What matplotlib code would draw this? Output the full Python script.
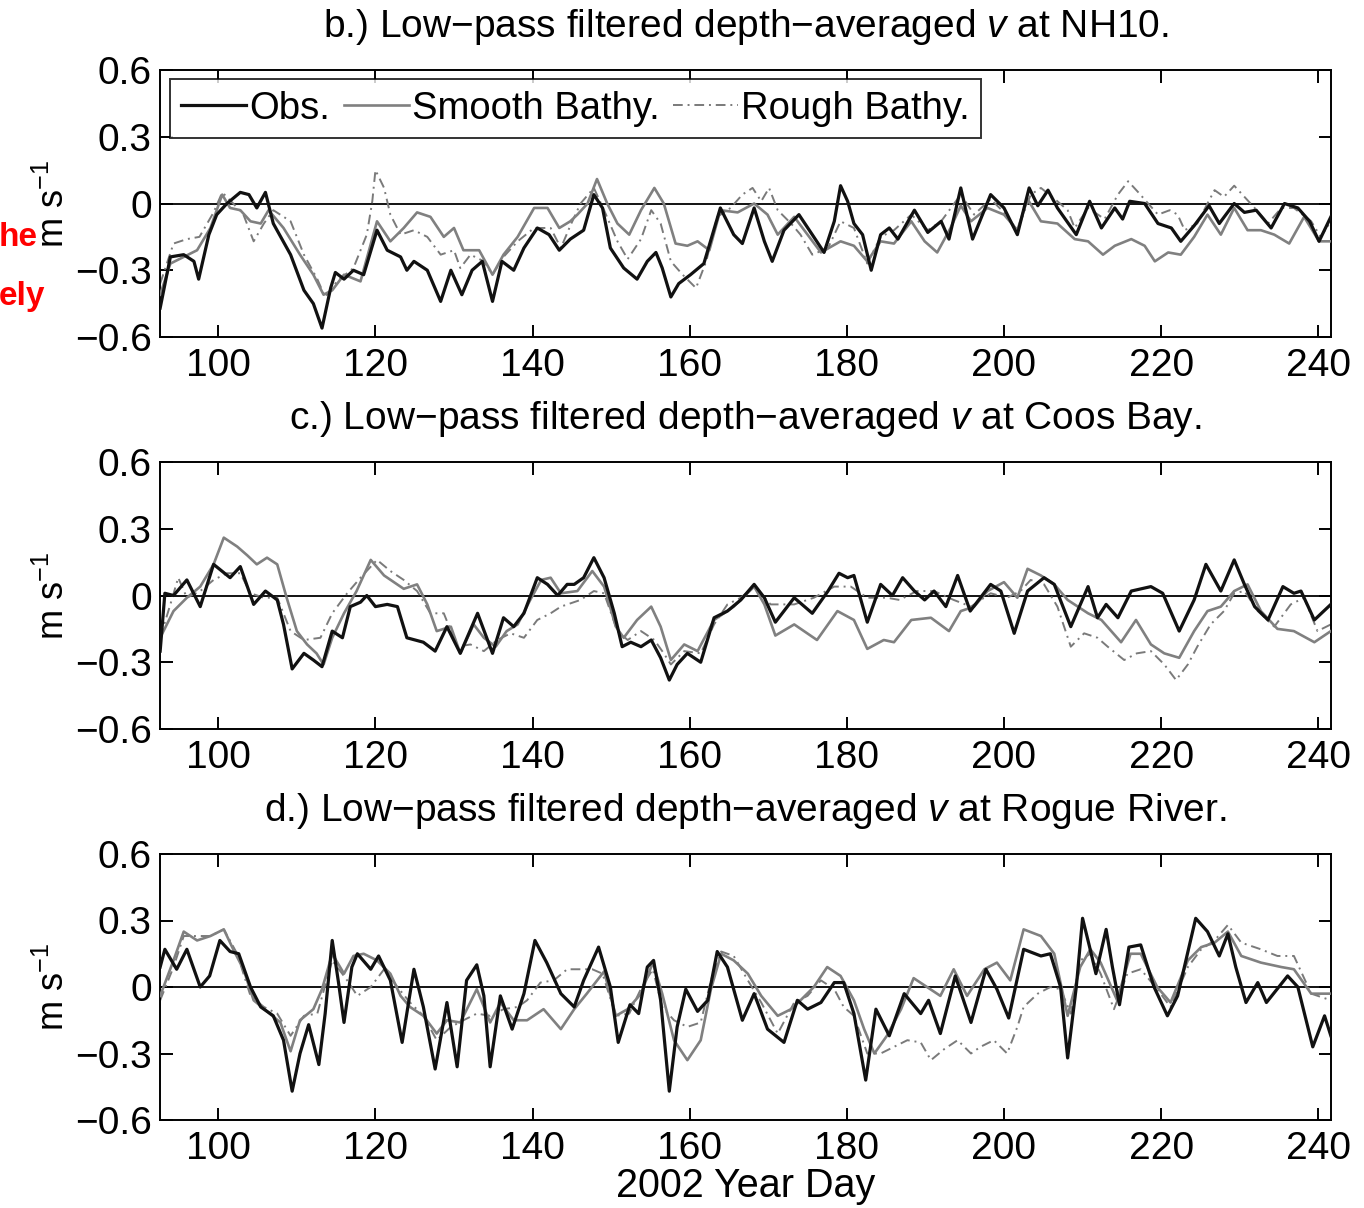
import matplotlib
matplotlib.use("Agg")
import matplotlib.pyplot as plt

plt.rcParams['font.family'] = ['Liberation Sans', 'DejaVu Sans']
plt.rcParams['mathtext.fontset'] = 'custom'
plt.rcParams['mathtext.rm'] = 'Liberation Sans'
plt.rcParams['mathtext.it'] = 'Liberation Sans:italic'
plt.rcParams['axes.unicode_minus'] = True

# ---------------- data ----------------
series_labels = ["Obs.", "Smooth Bathy.", "Rough Bathy."]
panel_titles = [
    "b.) Low\u2212pass filtered depth\u2212averaged $\\mathit{v}$ at NH10.",
    "c.) Low\u2212pass filtered depth\u2212averaged $\\mathit{v}$ at Coos Bay.",
    "d.) Low\u2212pass filtered depth\u2212averaged $\\mathit{v}$ at Rogue River.",
]
xticks = [100, 120, 140, 160, 180, 200, 220, 240]
yticks = [-0.6, -0.3, 0, 0.3, 0.6]
ytick_labels = ["\u22120.6", "\u22120.3", "0", "0.3", "0.6"]
xlabel = "2002 Year Day"
ylabel = "m s$^{-1}$"

# Panel b (NH10)
b_obs_day = [92.6, 93.9, 95.6, 96.9, 97.5, 98.8, 99.8, 101.1, 102.8, 103.9, 104.9, 106.0, 107.0, 109.2, 110.9, 112.1, 113.2, 114.3, 114.9, 116.0, 117.2, 118.5, 120.2, 121.5, 123.2, 124.0, 124.9, 126.6, 128.3, 129.6, 131.0, 132.3, 133.6, 134.9, 136.1, 137.6, 138.9, 140.6, 142.1, 143.4, 144.8, 146.5, 147.8, 148.9, 149.9, 151.6, 153.3, 154.6, 155.7, 156.5, 157.6, 158.6, 160.1, 161.8, 163.9, 165.6, 166.7, 168.2, 169.5, 170.5, 172.0, 173.9, 175.6, 177.1, 178.4, 179.2, 180.1, 180.9, 182.0, 183.1, 184.3, 185.4, 186.5, 188.6, 190.3, 192.0, 193.0, 194.5, 196.0, 198.3, 200.0, 201.7, 203.2, 204.3, 205.6, 206.8, 209.2, 210.9, 212.4, 214.1, 215.1, 216.0, 217.9, 219.6, 221.3, 222.5, 224.2, 226.1, 227.4, 229.3, 230.6, 232.1, 234.0, 235.7, 237.4, 238.9, 240.1, 241.6]
b_obs_v = [-0.47, -0.24, -0.23, -0.26, -0.34, -0.14, -0.05, 0.0, 0.05, 0.04, -0.02, 0.05, -0.09, -0.23, -0.39, -0.45, -0.56, -0.38, -0.31, -0.34, -0.30, -0.32, -0.12, -0.21, -0.24, -0.30, -0.26, -0.30, -0.44, -0.30, -0.41, -0.30, -0.26, -0.44, -0.26, -0.30, -0.20, -0.11, -0.14, -0.21, -0.16, -0.12, 0.04, -0.02, -0.20, -0.29, -0.34, -0.26, -0.22, -0.29, -0.42, -0.36, -0.32, -0.27, -0.02, -0.14, -0.18, -0.02, -0.17, -0.26, -0.12, -0.05, -0.14, -0.22, -0.08, 0.08, 0.01, -0.09, -0.14, -0.30, -0.14, -0.11, -0.16, -0.03, -0.13, -0.08, -0.16, 0.07, -0.16, 0.04, -0.02, -0.14, 0.07, -0.01, 0.06, -0.02, -0.14, 0.01, -0.11, -0.02, -0.07, 0.01, 0.0, -0.09, -0.11, -0.17, -0.10, -0.01, -0.09, 0.0, -0.04, -0.03, -0.11, 0.0, -0.02, -0.08, -0.17, -0.06]

b_smooth_day = [92.6, 93.9, 95.6, 97.3, 99.0, 100.5, 101.5, 102.8, 104.1, 105.4, 106.4, 108.3, 110.4, 112.1, 113.4, 114.5, 116.0, 118.1, 120.2, 121.9, 123.6, 125.3, 127.0, 128.7, 130.0, 131.2, 133.2, 134.9, 136.3, 138.1, 140.2, 141.9, 143.4, 144.8, 145.7, 147.0, 148.2, 149.5, 150.8, 152.3, 153.8, 155.5, 156.7, 158.2, 159.7, 161.0, 162.5, 163.9, 166.1, 168.2, 169.9, 171.2, 173.3, 175.0, 176.7, 179.2, 180.9, 182.6, 184.3, 186.0, 188.2, 189.9, 191.5, 193.2, 194.5, 195.8, 197.9, 200.0, 201.7, 203.0, 204.7, 206.8, 209.0, 210.7, 212.6, 214.1, 216.2, 217.9, 219.2, 220.9, 222.5, 224.2, 225.9, 227.6, 229.3, 231.0, 232.7, 234.4, 236.3, 238.2, 240.1, 241.6]
b_smooth_v = [-0.41, -0.27, -0.24, -0.21, -0.11, 0.04, -0.02, -0.03, -0.08, -0.09, -0.03, -0.11, -0.23, -0.32, -0.41, -0.39, -0.32, -0.35, -0.08, -0.17, -0.11, -0.04, -0.06, -0.15, -0.11, -0.21, -0.21, -0.32, -0.23, -0.15, -0.02, -0.02, -0.11, -0.08, -0.05, 0.0, 0.11, 0.0, -0.09, -0.14, -0.03, 0.07, 0.0, -0.18, -0.19, -0.17, -0.21, -0.03, -0.04, 0.0, -0.05, -0.14, -0.06, -0.14, -0.22, -0.17, -0.19, -0.26, -0.17, -0.18, -0.08, -0.17, -0.22, -0.11, -0.01, -0.08, -0.02, -0.05, -0.12, 0.02, -0.08, -0.09, -0.16, -0.17, -0.23, -0.19, -0.16, -0.19, -0.26, -0.22, -0.23, -0.15, -0.05, -0.14, -0.02, -0.12, -0.12, -0.14, -0.18, -0.06, -0.17, -0.17]

b_rough_day = [92.6, 94.3, 96.0, 97.6, 99.4, 100.5, 101.9, 103.2, 104.5, 105.8, 107.0, 109.2, 110.9, 112.6, 113.6, 115.1, 117.2, 118.9, 119.6, 120.0, 121.1, 121.9, 123.2, 124.9, 126.6, 128.3, 130.0, 130.8, 132.1, 133.8, 134.9, 136.3, 138.1, 140.2, 142.3, 143.6, 144.8, 146.1, 147.8, 149.1, 150.8, 152.1, 153.8, 155.1, 156.3, 157.6, 159.1, 160.8, 162.1, 163.5, 165.2, 166.7, 168.0, 169.1, 170.1, 171.2, 172.9, 174.1, 175.6, 177.6, 179.2, 180.9, 182.6, 184.3, 186.0, 188.2, 190.3, 192.0, 194.5, 196.2, 198.3, 200.0, 201.7, 203.4, 204.7, 206.8, 208.1, 209.0, 210.7, 212.8, 214.5, 215.8, 217.1, 218.1, 219.6, 221.1, 222.1, 223.0, 224.6, 225.9, 226.8, 228.0, 229.3, 230.6, 231.9, 233.6, 235.3, 236.9, 239.1, 240.3, 241.6]
b_rough_v = [-0.36, -0.18, -0.16, -0.15, -0.04, 0.05, 0.0, -0.05, -0.17, -0.09, -0.03, -0.08, -0.23, -0.34, -0.42, -0.35, -0.29, -0.14, 0.01, 0.15, 0.07, -0.05, -0.14, -0.12, -0.15, -0.23, -0.21, -0.29, -0.23, -0.26, -0.32, -0.24, -0.17, -0.11, -0.11, -0.20, -0.10, 0.0, 0.07, -0.03, -0.17, -0.25, -0.16, -0.03, -0.09, -0.26, -0.32, -0.38, -0.26, -0.06, -0.02, 0.04, 0.07, 0.01, 0.07, -0.03, -0.09, -0.14, -0.23, -0.20, -0.08, -0.11, -0.27, -0.15, -0.12, -0.05, -0.12, -0.08, 0.04, -0.05, 0.02, -0.04, -0.12, 0.04, 0.07, 0.01, -0.03, -0.11, -0.02, -0.07, 0.04, 0.10, 0.05, 0.01, -0.05, -0.03, -0.05, -0.12, -0.09, 0.0, 0.06, 0.03, 0.08, 0.03, -0.02, -0.09, -0.02, -0.02, -0.08, -0.15, -0.08]

# Panel c (Coos Bay)
c_obs_day = [92.6, 93.2, 94.3, 96.0, 97.7, 99.4, 101.5, 102.8, 104.5, 106.0, 107.5, 108.3, 109.4, 110.9, 112.1, 113.2, 114.5, 115.8, 116.8, 118.1, 118.9, 120.0, 121.5, 122.8, 124.0, 126.1, 127.6, 129.1, 130.8, 133.0, 134.9, 136.3, 137.6, 138.9, 140.6, 141.9, 143.2, 144.4, 145.3, 146.5, 147.8, 149.1, 150.4, 151.4, 152.5, 153.8, 155.1, 156.3, 157.4, 158.4, 159.7, 161.4, 163.1, 164.8, 166.5, 168.2, 169.5, 170.9, 173.3, 175.6, 177.6, 179.0, 180.1, 180.9, 182.6, 184.3, 185.8, 187.1, 188.6, 189.9, 191.1, 192.6, 194.1, 195.7, 198.3, 199.6, 201.3, 203.0, 205.1, 206.4, 208.5, 210.7, 211.9, 213.0, 214.5, 216.2, 218.7, 220.2, 222.3, 224.2, 225.7, 227.6, 229.3, 230.6, 231.9, 233.6, 235.5, 236.9, 237.8, 239.5, 241.6]
c_obs_v = [-0.25, 0.01, 0.0, 0.07, -0.05, 0.14, 0.08, 0.13, -0.04, 0.02, -0.02, -0.13, -0.33, -0.26, -0.29, -0.32, -0.16, -0.19, -0.05, -0.03, 0.0, -0.05, -0.04, -0.05, -0.19, -0.21, -0.25, -0.14, -0.26, -0.08, -0.26, -0.10, -0.14, -0.08, 0.08, 0.05, 0.0, 0.05, 0.05, 0.08, 0.17, 0.08, -0.08, -0.23, -0.21, -0.23, -0.20, -0.28, -0.38, -0.31, -0.26, -0.30, -0.10, -0.07, -0.02, 0.05, -0.01, -0.12, -0.01, -0.08, 0.02, 0.10, 0.08, 0.09, -0.12, 0.05, 0.0, 0.08, 0.02, -0.02, 0.02, -0.05, 0.09, -0.07, 0.05, 0.02, -0.17, 0.02, 0.08, 0.05, -0.14, 0.04, -0.10, -0.04, -0.10, 0.02, 0.04, 0.01, -0.16, -0.02, 0.14, 0.02, 0.16, 0.05, -0.05, -0.11, 0.04, 0.01, 0.02, -0.11, -0.04]

c_smooth_day = [92.6, 94.3, 96.0, 97.7, 99.4, 100.7, 102.4, 103.7, 104.9, 106.2, 107.5, 108.7, 110.0, 111.3, 112.5, 113.4, 114.5, 116.0, 117.6, 119.4, 121.1, 123.6, 125.3, 126.6, 127.8, 129.6, 130.8, 132.5, 133.8, 135.3, 136.7, 138.1, 139.7, 141.1, 142.3, 143.6, 145.7, 147.6, 149.1, 150.6, 151.6, 153.3, 155.1, 156.3, 157.6, 159.3, 161.0, 163.1, 165.6, 168.2, 169.5, 170.9, 173.3, 176.2, 178.8, 180.9, 182.6, 184.7, 186.0, 188.2, 190.7, 193.0, 194.5, 196.2, 197.9, 200.0, 201.7, 203.0, 204.7, 206.4, 208.1, 210.7, 212.4, 214.9, 216.8, 218.7, 220.4, 222.3, 224.2, 225.9, 227.6, 229.3, 231.0, 232.7, 234.8, 236.9, 239.5, 241.6]
c_smooth_v = [-0.19, -0.07, -0.01, 0.04, 0.14, 0.26, 0.22, 0.18, 0.14, 0.17, 0.14, -0.01, -0.16, -0.22, -0.26, -0.31, -0.19, -0.08, 0.02, 0.16, 0.09, 0.03, 0.05, -0.04, -0.16, -0.14, -0.26, -0.13, -0.19, -0.23, -0.16, -0.13, -0.02, 0.07, 0.08, 0.01, 0.02, 0.11, 0.04, -0.14, -0.19, -0.11, -0.05, -0.14, -0.29, -0.22, -0.25, -0.11, -0.05, 0.04, -0.04, -0.18, -0.13, -0.20, -0.07, -0.11, -0.24, -0.20, -0.21, -0.11, -0.10, -0.16, -0.07, -0.05, 0.02, 0.06, -0.01, 0.12, 0.09, 0.05, -0.02, -0.08, -0.11, -0.21, -0.11, -0.22, -0.26, -0.28, -0.16, -0.07, -0.05, 0.02, 0.05, -0.07, -0.15, -0.16, -0.21, -0.16]

c_rough_day = [92.6, 93.9, 94.9, 96.0, 97.7, 99.4, 101.1, 102.8, 104.1, 105.8, 107.5, 109.2, 110.9, 113.0, 114.5, 116.4, 118.1, 120.2, 121.9, 123.6, 125.3, 127.0, 128.7, 130.4, 132.1, 133.8, 135.5, 137.2, 138.9, 140.6, 142.3, 143.6, 146.1, 147.8, 149.1, 150.8, 152.1, 153.8, 155.5, 156.7, 157.6, 159.3, 161.4, 163.1, 164.8, 166.5, 168.2, 170.3, 173.3, 175.8, 178.4, 180.5, 182.6, 185.1, 186.7, 188.9, 191.1, 193.6, 195.8, 198.3, 200.4, 202.1, 203.4, 205.1, 206.8, 208.5, 210.2, 211.9, 213.2, 215.3, 216.9, 218.7, 220.4, 221.9, 223.4, 224.6, 226.3, 228.0, 229.3, 230.6, 232.3, 234.4, 236.5, 238.2, 239.9, 241.6]
c_rough_v = [-0.19, -0.04, 0.08, -0.01, 0.02, 0.07, 0.10, 0.10, 0.01, -0.01, -0.01, -0.16, -0.20, -0.19, -0.08, 0.01, 0.08, 0.16, 0.11, 0.07, 0.02, -0.08, -0.08, -0.23, -0.22, -0.25, -0.20, -0.17, -0.19, -0.11, -0.08, -0.05, -0.02, 0.02, 0.01, -0.16, -0.20, -0.16, -0.20, -0.26, -0.31, -0.25, -0.26, -0.13, -0.04, -0.01, 0.04, -0.04, -0.04, -0.01, 0.04, 0.04, -0.01, -0.01, -0.02, 0.02, 0.02, -0.02, -0.05, 0.01, -0.01, 0.02, 0.07, 0.05, -0.05, -0.23, -0.17, -0.19, -0.23, -0.29, -0.26, -0.25, -0.31, -0.38, -0.31, -0.23, -0.13, -0.07, 0.01, 0.02, -0.07, -0.14, -0.04, -0.01, -0.16, -0.13]

# Panel d (Rogue River)
d_obs_day = [92.6, 93.2, 94.7, 96.0, 97.7, 98.9, 100.2, 101.5, 102.6, 104.1, 105.4, 107.0, 108.3, 109.4, 110.4, 111.5, 112.8, 113.6, 114.5, 115.3, 116.0, 117.0, 117.7, 119.4, 120.4, 121.9, 123.4, 124.9, 126.1, 127.6, 129.1, 130.4, 131.6, 132.9, 133.8, 134.6, 135.9, 137.4, 138.9, 140.3, 141.8, 143.6, 145.3, 146.5, 148.4, 149.9, 150.9, 152.4, 153.5, 154.6, 155.4, 156.3, 157.4, 158.4, 159.5, 161.0, 162.3, 163.5, 164.8, 166.7, 168.2, 169.9, 172.0, 173.7, 175.0, 176.7, 178.4, 179.6, 180.9, 182.4, 183.7, 185.4, 187.3, 189.4, 190.4, 191.9, 193.8, 195.8, 197.7, 199.1, 200.6, 202.5, 204.7, 205.9, 207.2, 208.1, 209.2, 210.0, 210.9, 211.7, 213.0, 213.8, 214.7, 215.9, 217.4, 219.1, 220.8, 222.1, 224.4, 225.9, 227.4, 228.5, 229.5, 230.8, 232.3, 233.4, 236.1, 237.4, 239.3, 240.8, 241.6]
d_obs_v = [0.09, 0.17, 0.08, 0.17, 0.0, 0.05, 0.21, 0.16, 0.15, 0.0, -0.09, -0.13, -0.24, -0.47, -0.30, -0.17, -0.35, -0.12, 0.21, 0.02, -0.16, 0.09, 0.15, 0.08, 0.14, 0.03, -0.25, 0.08, -0.09, -0.37, -0.07, -0.36, 0.03, 0.10, -0.04, -0.36, -0.04, -0.19, -0.03, 0.21, 0.11, -0.03, -0.09, 0.03, 0.18, 0.0, -0.25, -0.08, -0.12, 0.09, 0.12, -0.06, -0.47, -0.18, -0.01, -0.11, -0.06, 0.16, 0.09, -0.15, -0.03, -0.19, -0.25, -0.06, -0.10, -0.07, 0.02, 0.02, -0.12, -0.42, -0.10, -0.22, -0.03, -0.12, -0.06, -0.21, 0.05, -0.16, 0.08, -0.01, -0.14, 0.17, 0.14, 0.15, 0.0, -0.32, 0.0, 0.31, 0.18, 0.06, 0.26, 0.09, -0.08, 0.18, 0.19, 0.0, -0.13, -0.04, 0.31, 0.25, 0.14, 0.24, 0.09, -0.07, 0.02, -0.07, 0.05, 0.0, -0.27, -0.13, -0.22]

d_smooth_day = [92.6, 94.3, 95.6, 97.3, 99.0, 100.7, 101.9, 103.2, 104.5, 106.2, 107.9, 109.2, 110.4, 112.1, 113.2, 114.5, 116.0, 117.2, 118.5, 120.2, 121.9, 123.2, 124.4, 126.1, 127.8, 129.1, 130.8, 132.9, 134.6, 135.9, 137.6, 139.3, 141.4, 143.6, 145.3, 146.9, 149.1, 150.6, 152.1, 153.8, 155.3, 156.5, 158.0, 159.7, 161.4, 162.7, 164.0, 165.6, 167.4, 169.1, 171.2, 172.9, 174.1, 175.8, 177.5, 179.2, 180.9, 182.2, 183.5, 185.1, 186.9, 188.5, 190.2, 191.9, 193.6, 195.3, 197.5, 199.1, 200.8, 202.5, 204.7, 206.4, 208.1, 209.7, 211.0, 212.3, 214.4, 216.1, 217.4, 219.5, 221.2, 223.4, 225.1, 226.8, 228.5, 230.2, 232.7, 235.3, 236.9, 239.1, 241.6]
d_smooth_v = [-0.04, 0.12, 0.25, 0.21, 0.23, 0.26, 0.17, 0.08, -0.06, -0.11, -0.16, -0.29, -0.15, -0.10, -0.01, 0.15, 0.06, 0.14, 0.15, 0.12, 0.06, -0.04, -0.09, -0.13, -0.21, -0.15, -0.16, -0.01, -0.16, -0.07, -0.15, -0.15, -0.10, -0.19, -0.10, -0.03, 0.07, -0.13, -0.10, -0.03, 0.11, -0.03, -0.24, -0.33, -0.24, -0.01, 0.15, 0.12, 0.06, -0.04, -0.13, -0.10, -0.06, 0.0, 0.09, 0.05, -0.06, -0.19, -0.30, -0.22, -0.10, 0.04, 0.0, -0.04, 0.08, -0.04, 0.08, 0.11, 0.03, 0.26, 0.23, 0.15, -0.13, 0.09, 0.17, 0.11, -0.06, 0.15, 0.15, 0.0, -0.07, 0.12, 0.18, 0.20, 0.25, 0.14, 0.11, 0.09, 0.08, -0.03, -0.03]

d_rough_day = [92.6, 94.3, 95.6, 97.3, 99.0, 100.7, 102.4, 104.1, 105.8, 107.5, 109.2, 110.9, 112.6, 114.5, 116.4, 117.7, 119.4, 121.1, 122.8, 124.4, 126.1, 127.8, 129.6, 131.2, 132.9, 134.6, 136.3, 138.1, 139.3, 141.0, 142.7, 144.4, 145.9, 147.6, 148.9, 150.6, 152.3, 153.9, 155.3, 156.5, 158.0, 159.7, 161.4, 162.7, 164.0, 165.6, 167.4, 169.1, 171.2, 173.3, 175.0, 176.7, 178.4, 179.6, 180.9, 182.6, 184.3, 186.0, 187.7, 189.4, 190.7, 192.4, 194.1, 195.8, 197.0, 198.7, 200.4, 201.7, 202.5, 204.3, 205.9, 207.2, 208.5, 209.7, 211.0, 212.3, 214.0, 215.7, 217.4, 219.5, 221.2, 223.4, 225.1, 226.8, 228.5, 230.2, 232.7, 234.8, 236.9, 239.1, 241.6]
d_rough_v = [-0.06, 0.09, 0.23, 0.23, 0.23, 0.26, 0.15, -0.04, -0.09, -0.12, -0.22, -0.13, -0.12, 0.12, 0.03, -0.04, 0.0, 0.08, 0.0, -0.07, -0.13, -0.24, -0.18, -0.15, -0.12, -0.13, -0.10, -0.09, -0.06, 0.02, 0.03, 0.08, 0.08, 0.08, 0.06, -0.13, -0.12, 0.0, 0.08, -0.09, -0.15, -0.18, -0.16, 0.03, 0.16, 0.14, 0.03, -0.07, -0.21, -0.07, -0.04, 0.03, -0.01, -0.09, -0.13, -0.30, -0.30, -0.27, -0.24, -0.25, -0.33, -0.28, -0.24, -0.30, -0.27, -0.24, -0.30, -0.18, -0.09, -0.03, 0.0, -0.01, -0.12, 0.12, 0.15, 0.06, -0.10, 0.06, 0.08, -0.01, -0.09, 0.09, 0.17, 0.21, 0.28, 0.20, 0.17, 0.14, 0.14, -0.03, -0.06]

panels = [
    (b_obs_day, b_obs_v, b_smooth_day, b_smooth_v, b_rough_day, b_rough_v),
    (c_obs_day, c_obs_v, c_smooth_day, c_smooth_v, c_rough_day, c_rough_v),
    (d_obs_day, d_obs_v, d_smooth_day, d_smooth_v, d_rough_day, d_rough_v),
]

# ---------------- figure ----------------
W, H = 1364, 1208
fig = plt.figure(figsize=(W / 100, H / 100), dpi=100)

axes_px = [(70, 337), (462, 729), (854, 1120)]
left_px, right_px = 160, 1331
xlim = (92.58, 241.62)

obs_kw = dict(color='#111111', lw=2.3, solid_joinstyle='round')
smooth_kw = dict(color='#808080', lw=1.9, solid_joinstyle='round')
rough_kw = dict(color='#7a7a7a', lw=1.4, linestyle=(0, (5, 2.5, 1, 2.5)))

for i, ((top, bot), data, title) in enumerate(zip(axes_px, panels, panel_titles)):
    ax = fig.add_axes([left_px / W, 1 - bot / H, (right_px - left_px) / W, (bot - top) / H])
    od, ov, sd, sv, rd, rv = data
    ax.axhline(0, color='k', lw=1.3, zorder=1)
    l3, = ax.plot(rd, rv, label=series_labels[2], zorder=2, **rough_kw)
    l2, = ax.plot(sd, sv, label=series_labels[1], zorder=3, **smooth_kw)
    l1, = ax.plot(od, ov, label=series_labels[0], zorder=4, **obs_kw)
    ax.set_xlim(*xlim)
    ax.set_ylim(-0.6, 0.6)
    ax.set_xticks(xticks)
    ax.set_xticklabels([str(t) for t in xticks])
    ax.set_yticks(yticks)
    ax.set_yticklabels(ytick_labels)
    ax.tick_params(direction='in', length=9, width=1.4, top=True, right=True,
                   labelsize=28, pad=6)
    ax.tick_params(axis='x', pad=8)
    for s in ax.spines.values():
        s.set_linewidth(1.4)
    ax.set_title(title, fontsize=28, pad=24)
    ax.set_ylabel(ylabel, fontsize=26, labelpad=2)
    if i == 0:
        leg = ax.legend(handles=[l1, l2, l3], ncol=3, loc='upper left',
                        bbox_to_anchor=(0.0085, 0.966), fontsize=27.5,
                        frameon=True, fancybox=False, edgecolor='k',
                        handlelength=1.7, handletextpad=0.08,
                        columnspacing=0.35, borderpad=0.3, borderaxespad=0.0)
        leg.get_frame().set_linewidth(1.4)
    if i == 2:
        ax.set_xlabel(xlabel, fontsize=28.5, labelpad=0)

# partially visible slide text at the left edge
fig.text(-0.001, 1 - 246 / H, "he", color='#ff0000', fontsize=24, fontweight='bold',
         family=['Liberation Sans Narrow', 'Liberation Sans'], ha='left', va='baseline')
fig.text(-0.001, 1 - 305 / H, "ely", color='#ff0000', fontsize=24, fontweight='bold',
         family=['Liberation Sans Narrow', 'Liberation Sans'], ha='left', va='baseline')

fig.savefig("out.png", dpi=100)
